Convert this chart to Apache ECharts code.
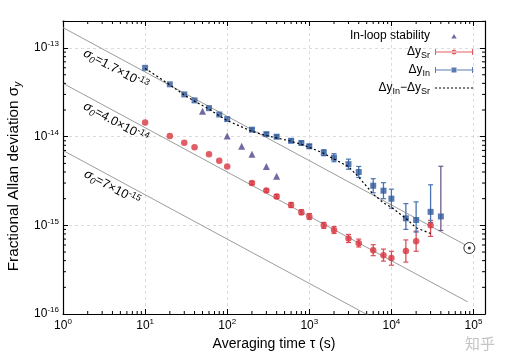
<!DOCTYPE html>
<html><head><meta charset="utf-8">
<script src="https://cdn.jsdelivr.net/npm/echarts@6/dist/echarts.min.js"></script>
<style>html,body{margin:0;padding:0;background:#fff}#c{width:509px;height:359px}</style>
</head><body><div id="c"></div>
<script>
// ---- data ----
const tauSr = [10,20,30,40,60,80,100,200,300,400,600,800,1000,1500,2000,3000,4000,6000,8000,10000,15000,20000,30000];
const sr    = [1.45e-14,1.02e-14,8.55e-15,7.6e-15,6.35e-15,5.35e-15,4.6e-15,3.0e-15,2.47e-15,2.12e-15,1.7e-15,1.41e-15,1.26e-15,1.0e-15,8.85e-16,7.1e-16,6.3e-16,5.25e-16,4.6e-16,4.27e-16,5.13e-16,6.6e-16,1.0e-15];
const srLo  = [null,null,null,null,null,null,null,2.88e-15,2.37e-15,2.01e-15,1.59e-15,1.32e-15,1.17e-15,9.25e-16,8.1e-16,6.4e-16,5.7e-16,4.55e-16,3.95e-16,3.55e-16,3.85e-16,5.1e-16,7.5e-16];
const srHi  = [null,null,null,null,null,null,null,3.12e-15,2.57e-15,2.23e-15,1.81e-15,1.5e-15,1.36e-15,1.08e-15,9.7e-16,7.9e-16,7.0e-16,6.05e-16,5.4e-16,5.1e-16,6.85e-16,8.6e-16,1.14e-15];

const tauIn = [10,20,30,40,60,80,100,200,300,400,600,800,1000,1500,2000,3000,4000,6000,8000,10000,15000,20000,30000,40000];
const inV   = [5.98e-14,3.9e-14,3.0e-14,2.57e-14,2.1e-14,1.78e-14,1.58e-14,1.2e-14,1.07e-14,1.0e-14,9.0e-15,8.5e-15,7.8e-15,6.6e-15,5.8e-15,4.9e-15,4.0e-15,2.8e-15,2.46e-15,2.0e-15,1.2e-15,1.15e-15,1.42e-15,1.26e-15];
const inLo  = [null,null,null,null,null,null,null,1.15e-14,1.03e-14,9.6e-15,8.6e-15,8.1e-15,7.4e-15,6.1e-15,5.22e-15,4.3e-15,3.47e-15,2.33e-15,2.0e-15,1.56e-15,9.0e-16,8.4e-16,1.08e-15,8.75e-16];
const inHi  = [null,null,null,null,null,null,null,1.25e-14,1.11e-14,1.04e-14,9.4e-15,8.9e-15,8.2e-15,7.13e-15,6.44e-15,5.58e-15,4.62e-15,3.36e-15,3.03e-15,2.56e-15,1.76e-15,1.84e-15,2.87e-15,4.64e-15];

const tauLoop = [50,100,150,200,300,400];
const loopV   = [1.94e-14,1.02e-14,7.8e-15,6.35e-15,4.6e-15,3.58e-15];

const tauDiff = [10,20,30,40,60,80,100,200,300,400,600,800,1000,1500,2000,3000,4000,6000,8000,10000,15000,20000,30000];
const diffV   = [5.9e-14,3.85e-14,2.95e-14,2.52e-14,2.05e-14,1.72e-14,1.52e-14,1.15e-14,1.03e-14,9.7e-15,8.9e-15,8.2e-15,7.6e-15,6.5e-15,5.6e-15,4.6e-15,3.5e-15,2.25e-15,1.8e-15,1.6e-15,1.2e-15,9.4e-16,8.1e-16];

// reference lines sigma0 / sqrt(tau): endpoints
const refTau = [[1,8e4],[1,8.5e4],[1,1e4]];
const refVal = [[1.7e-13,6.0e-16],[4.0e-14,1.37e-16],[7e-15,7e-17]];
const refMant = ['1.7','4.0','7'];
const refExp  = ['-13','-14','-15'];
const refLabelAt = [[4.4,5.75e-14],[4.4,1.45e-14],[3.94,2.66e-15]];

const markerPt = [8.9e4, 5.55e-16];

const X_MIN = 1, X_MAX = 1.38e5, Y_MIN = 1e-16, Y_MAX = 2.02e-13;
const xDecades = [0,1,2,3,4,5];
const yDecades = [-16,-15,-14,-13];

// ---- styling ----
const FONT = 'Liberation Sans, Arial, Helvetica, sans-serif';
const RED = '#d8363f', RED_BAR = '#da4f58';
const BLUE = '#2f5a9c', BLUE_BAR = '#4a73b1';
const PURPLE = '#4e468f';
const inBarColorOverride = {23: '#6c5b8d'};

function expLabel(v){
  const l = Math.log10(v), n = Math.round(l);
  if (Math.abs(l - n) > 1e-6) return '';
  return '{b|10}{s|' + n + '}';
}
const tickRich = {
  b:{fontSize:12, lineHeight:16, fontFamily:FONT, color:'#000'},
  s:{fontSize:8, lineHeight:8, verticalAlign:'top', fontFamily:FONT, color:'#000'}
};

const minorData = [];
xDecades.forEach(d => { for (let k=2;k<=9;k++){ const v=k*Math.pow(10,d); if (v<X_MAX) minorData.push([v, Y_MIN, 0]); } });
yDecades.forEach(d => { for (let k=2;k<=9;k++){ const v=k*Math.pow(10,d); if (v<Y_MAX) minorData.push([X_MIN, v, 1]); } });

function errRender(params, api){
  const x = api.value(0);
  const p1 = api.coord([x, api.value(1)]);
  const p2 = api.coord([x, api.value(2)]);
  const c = api.visual('color');
  return {type:'group', children:[
    {type:'line', shape:{x1:p1[0],y1:p1[1],x2:p2[0],y2:p2[1]}, style:{stroke:c, lineWidth:1.3}},
    {type:'line', shape:{x1:p1[0]-2.5,y1:p1[1],x2:p1[0]+2.5,y2:p1[1]}, style:{stroke:c, lineWidth:1.2}},
    {type:'line', shape:{x1:p2[0]-2.5,y1:p2[1],x2:p2[0]+2.5,y2:p2[1]}, style:{stroke:c, lineWidth:1.2}}
  ]};
}
function buildErr(t, lo, hi, override){
  const out = [];
  t.forEach((x,i) => {
    if (lo[i] == null) return;
    const d = {value:[x, lo[i], hi[i]]};
    if (override && override[i]) d.itemStyle = {color: override[i]};
    out.push(d);
  });
  return out;
}

// legend icons (38 x 8 box)
const corners = 'M0,0h0.01v0.01h-0.01zM38,8h-0.01v-0.01h0.01z';
const iconTri = 'path://' + corners + 'M16.3,6.6L19,2L21.7,6.6z';
const barBase = 'M0,1h1v6h-1zM37,1h1v6h-1zM0,3.4h16v1.2h-16zM22,3.4h16v1.2h-16z';
const iconSr = 'path://' + corners + barBase + 'M16.5,4a2.5,2.5 0 1,0 5,0a2.5,2.5 0 1,0 -5,0z' + 'M16,3.4h6v1.2h-6z';
const iconIn = 'path://' + corners + barBase + 'M16.5,1.5h5v5h-5z';
let dots = '';
for (let x=0; x<38; x+=4.2) dots += 'M' + x.toFixed(1) + ',3.4h2.2v1.2h-2.2z';
const iconDiff = 'path://' + corners + dots;

const legendText = {
  loop:'{a|In-loop stability}',
  sr:'{a|Δy}{b|Sr}',
  in:'{a|Δy}{b|In}',
  diff:'{a|Δy}{b|In}{a|−Δy}{b|Sr}'
};

const chart = echarts.init(document.getElementById('c'), null, {renderer:'canvas'});
const axisLineStyle = {color:'#000', width:1.2};
const option = {
  animation:false,
  backgroundColor:'#fff',
  textStyle:{fontFamily:FONT},
  grid:{left:63, right:24, top:21, bottom:45, containLabel:false, outerBoundsMode:'none'},
  xAxis:[
    {type:'log', logBase:10, min:X_MIN, max:X_MAX, position:'bottom',
     axisLine:{show:true, onZero:false, lineStyle:axisLineStyle},
     axisTick:{show:true, inside:true, length:5, lineStyle:{color:'#000', width:1}},
     axisLabel:{formatter:expLabel, rich:tickRich, margin:4, color:'#000'},
     splitLine:{show:true, lineStyle:{type:[3,3], color:'#d4d4d4', width:0.8}},
     name:'Averaging time τ (s)', nameLocation:'middle', nameGap:20,
     nameTextStyle:{fontSize:14, color:'#000', fontFamily:FONT}},
    {type:'log', logBase:10, min:X_MIN, max:X_MAX, position:'top',
     axisLine:{show:true, onZero:false, lineStyle:axisLineStyle},
     axisTick:{show:true, inside:true, length:5, lineStyle:{color:'#000', width:1}},
     axisLabel:{show:false}, splitLine:{show:false}}
  ],
  yAxis:[
    {type:'log', logBase:10, min:Y_MIN, max:Y_MAX, position:'left',
     axisLine:{show:true, onZero:false, lineStyle:axisLineStyle},
     axisTick:{show:true, inside:true, length:5, lineStyle:{color:'#000', width:1}},
     axisLabel:{formatter:expLabel, rich:tickRich, margin:4, color:'#000'},
     splitLine:{show:true, lineStyle:{type:[3,3], color:'#d4d4d4', width:0.8}},
     name:'{a|Fractional Allan deviation σ}{b|y}', nameLocation:'middle', nameGap:35,
     nameTextStyle:{color:'#000', padding:[0,18,0,0], rich:{
       a:{fontSize:15.3, lineHeight:18, fontFamily:FONT, color:'#000'},
       b:{fontSize:10, lineHeight:10, verticalAlign:'bottom', fontStyle:'italic', fontFamily:FONT, color:'#000'}}}},
    {type:'log', logBase:10, min:Y_MIN, max:Y_MAX, position:'right',
     axisLine:{show:true, onZero:false, lineStyle:axisLineStyle},
     axisTick:{show:true, inside:true, length:5, lineStyle:{color:'#000', width:1}},
     axisLabel:{show:false}, splitLine:{show:false}}
  ],
  legend:{
    orient:'vertical', right:36, top:30, align:'right', padding:0,
    itemWidth:38, itemHeight:8, itemGap:4, selectedMode:false,
    data:[{name:'loop', icon:iconTri},{name:'sr', icon:iconSr},{name:'in', icon:iconIn},{name:'diff', icon:iconDiff}],
    formatter:n => legendText[n],
    textStyle:{color:'#000', fontSize:12, fontFamily:FONT, rich:{
      a:{fontSize:12, lineHeight:16, fontFamily:FONT, color:'#000'},
      b:{fontSize:9, lineHeight:9, verticalAlign:'bottom', fontFamily:FONT, color:'#000'}}}
  },
  graphic:[{type:'text', right:14, bottom:8, style:{text:'知乎', fill:'#c4c4c4', fontSize:15, fontFamily:'Noto Sans CJK SC'}}],
  series:[
    // reference lines
    ...refTau.map((t,i) => ({type:'line', name:'ref'+i, data:[[t[0],refVal[i][0]],[t[1],refVal[i][1]]],
      symbol:'none', silent:true, z:1, clip:true, lineStyle:{color:'#9c9c9c', width:1}})),
    // ref labels
    {type:'custom', name:'reflabels', z:1, silent:true, clip:false,
     data:refLabelAt.map((p,i) => [p[0], p[1], i]),
     renderItem:(params, api) => {
       const i = api.value(2);
       const p = api.coord([api.value(0), api.value(1)]);
       const a = api.coord([refTau[i][0], refVal[i][0]]);
       const b = api.coord([100, refVal[i][0]/10]);
       const ang = -Math.atan2(b[1]-a[1], b[0]-a[0]);
       return {type:'text', x:p[0], y:p[1], rotation:ang, style:{
         text:'{g|σ}{z|0}{n|=' + refMant[i] + '×10}{e|' + refExp[i] + '}',
         align:'center', verticalAlign:'middle', fill:'#000',
         rich:{
           g:{fontSize:13, fontStyle:'italic', fontFamily:FONT, lineHeight:16, fill:'#000'},
           z:{fontSize:9, fontStyle:'italic', fontFamily:FONT, lineHeight:9, verticalAlign:'bottom', fill:'#000'},
           n:{fontSize:12.5, fontFamily:FONT, lineHeight:16, fill:'#000'},
           e:{fontSize:9, fontFamily:FONT, lineHeight:9, verticalAlign:'top', fill:'#000'}
         }}};
     }},
    // minor ticks
    {type:'custom', name:'minor', silent:true, z:3, clip:false, data:minorData,
     renderItem:(params, api) => {
       const v = api.value(0), w = api.value(1), f = api.value(2);
       const st = {stroke:'#000', lineWidth:1};
       if (f === 0){
         const pb = api.coord([v, Y_MIN]), pt = api.coord([v, Y_MAX]);
         return {type:'group', children:[
           {type:'line', shape:{x1:pb[0],y1:pb[1],x2:pb[0],y2:pb[1]-3}, style:st},
           {type:'line', shape:{x1:pt[0],y1:pt[1],x2:pt[0],y2:pt[1]+3}, style:st}]};
       }
       const pl = api.coord([X_MIN, w]), pr = api.coord([X_MAX, w]);
       return {type:'group', children:[
         {type:'line', shape:{x1:pl[0],y1:pl[1],x2:pl[0]+3,y2:pl[1]}, style:st},
         {type:'line', shape:{x1:pr[0],y1:pr[1],x2:pr[0]-3,y2:pr[1]}, style:st}]};
     }},
    // error bars
    {type:'custom', name:'srErr', z:4, silent:true, itemStyle:{color:RED_BAR},
     data:buildErr(tauSr, srLo, srHi), renderItem:errRender},
    {type:'custom', name:'inErr', z:4, silent:true, itemStyle:{color:BLUE_BAR},
     data:buildErr(tauIn, inLo, inHi, inBarColorOverride), renderItem:errRender},
    // points
    {type:'scatter', name:'sr', z:5, symbol:'circle', symbolSize:6.5, itemStyle:{color:RED},
     data:tauSr.map((t,i) => [t, sr[i]])},
    {type:'scatter', name:'in', z:5, symbol:'rect', symbolSize:6, itemStyle:{color:BLUE},
     data:tauIn.map((t,i) => [t, inV[i]])},
    {type:'scatter', name:'loop', z:5, symbol:'triangle', symbolSize:7, itemStyle:{color:PURPLE},
     data:tauLoop.map((t,i) => [t, loopV[i]])},
    {type:'line', name:'diff', z:6, symbol:'none', itemStyle:{color:'#000'},
     lineStyle:{color:'#000', width:1.2, type:[2,2.5]},
     data:tauDiff.map((t,i) => [t, diffV[i]])},
    // circled point marker
    {type:'scatter', name:'mark', z:6, symbol:'circle', symbolSize:11, silent:true,
     itemStyle:{color:'rgba(255,255,255,0)', borderColor:'#000', borderWidth:1}, data:[markerPt]},
    {type:'scatter', name:'markdot', z:6, symbol:'circle', symbolSize:3, silent:true,
     itemStyle:{color:'#000'}, data:[markerPt]}
  ]
};
chart.setOption(option);
</script>
</body></html>
